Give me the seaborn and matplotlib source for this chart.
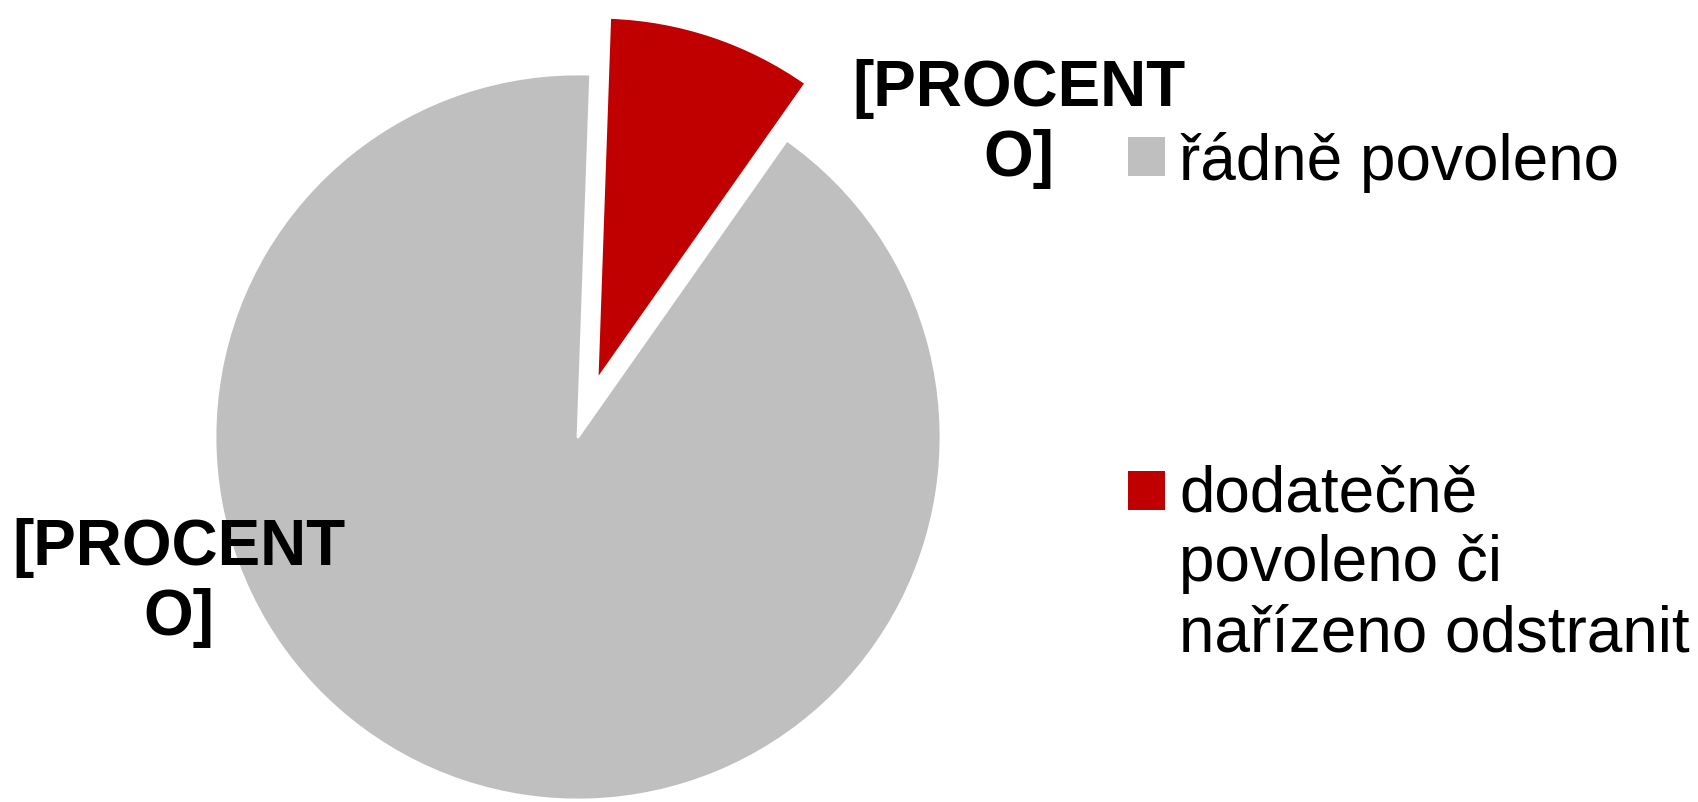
import matplotlib
matplotlib.use("Agg")
import matplotlib.pyplot as plt
import seaborn as sns
from matplotlib.patches import Rectangle
from matplotlib.legend_handler import HandlerPatch

# ---- data ----
categories = ["řádně povoleno", "dodatečně\npovoleno či\nnařízeno odstranit"]
values = [90.8, 9.2]
colors = ["#BFBFBF", "#C00000"]
explode = [0.0, 0.165]
slice_labels = ["[PROCENT\nO]", "[PROCENT\nO]"]

sns.set_theme(style="white")
plt.rcParams["font.family"] = ["Liberation Sans", "DejaVu Sans"]
plt.rcParams["text.color"] = "black"

W, H, DPI = 1698, 803, 100
fig = plt.figure(figsize=(W / DPI, H / DPI), dpi=DPI)

# pie centre (px) and radius (px)
cx, cy, R = 578, 438, 363
lim = 1.25
side = 2 * lim * R
ax = fig.add_axes([(cx - side / 2) / W, (H - cy - side / 2) / H, side / W, side / H])

wedges, _ = ax.pie(values, colors=colors, explode=explode, startangle=88,
                   counterclock=True, radius=1.0,
                   wedgeprops=dict(edgecolor="white", linewidth=2.0, joinstyle="round"))
ax.set_xlim(-lim, lim)
ax.set_ylim(-lim, lim)
ax.set_aspect("equal")
ax.axis("off")

label_pos = [(-1.099, -0.40), (1.215, 0.865)]
for txt, (x, y) in zip(slice_labels, label_pos):
    ax.text(x, y, txt, ha="center", va="center", fontsize=46, fontweight="bold",
            color="black", linespacing=1.22)

LEG_FS = 46
LEG_LS = 1.21
pitch = 0.955 * LEG_FS * LEG_LS  # baseline-to-baseline distance in points


class TopAlignedHandler(HandlerPatch):
    def __init__(self, nlines, **kw):
        super().__init__(**kw)
        self.nlines = nlines

    def create_artists(self, legend, orig_handle, xdescent, ydescent, width,
                       height, fontsize, trans):
        shift = (self.nlines - 1) / 2 * pitch
        p = Rectangle((-xdescent, -ydescent + shift), width, height,
                      facecolor=orig_handle.get_facecolor(), edgecolor="none",
                      transform=trans)
        return [p]


handles = [Rectangle((0, 0), 1, 1, facecolor=c, edgecolor="none") for c in colors]
hmap = {h: TopAlignedHandler(lab.count("\n") + 1) for h, lab in zip(handles, categories)}
leg = fig.legend(handles, categories, loc="upper left",
                 bbox_to_anchor=(1128 / W, 1 - 132 / H), frameon=False,
                 fontsize=LEG_FS, handlelength=0.58, handleheight=0.58,
                 handletextpad=0.22, labelspacing=4.25, borderpad=0,
                 borderaxespad=0, handler_map=hmap)
for t in leg.get_texts():
    t.set_linespacing(LEG_LS)
    t.set_color("black")

fig.savefig("out.png", dpi=DPI, facecolor="white")
